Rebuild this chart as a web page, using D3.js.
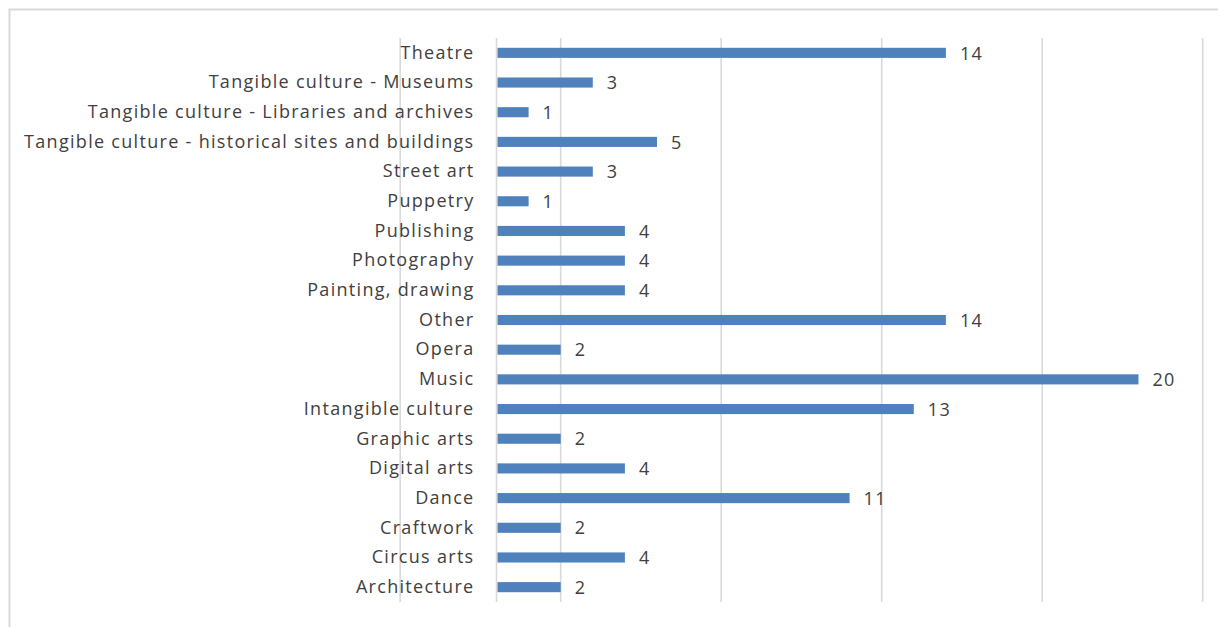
<!DOCTYPE html>
<html>
<head>
<meta charset="utf-8">
<script src="https://cdn.jsdelivr.net/npm/d3@7"></script>
<style>
  html, body { margin: 0; padding: 0; background: #fff; }
  svg { display: block; }
</style>
</head>
<body>
<svg id="chart" width="1218" height="627"></svg>
<script>
// Data (top to bottom as displayed)
const categories = [
  "Theatre",
  "Tangible culture - Museums",
  "Tangible culture - Libraries and archives",
  "Tangible culture - historical sites and buildings",
  "Street art",
  "Puppetry",
  "Publishing",
  "Photography",
  "Painting, drawing",
  "Other",
  "Opera",
  "Music",
  "Intangible culture",
  "Graphic arts",
  "Digital arts",
  "Dance",
  "Craftwork",
  "Circus arts",
  "Architecture"
];
const values = [14, 3, 1, 5, 3, 1, 4, 4, 4, 14, 2, 20, 13, 2, 4, 11, 2, 4, 2];
const gridValues = [-3, 2, 7, 12, 17, 22];

const svg = d3.select("#chart");
const W = 1218, H = 627;
const FONT = "'Open Sans', 'Noto Sans', sans-serif";
const FS = 18;
const LS = "1.3px";
const textColor = "#404040";
const barColor = "#4F81BD";
const gridColor = "#d9d9d9";

// Frame of the chart area (extends beyond the picture on right/bottom)
svg.append("rect")
  .attr("x", 9.5).attr("y", 9.5)
  .attr("width", W + 20).attr("height", H + 20)
  .attr("fill", "#fff")
  .attr("stroke", gridColor)
  .attr("stroke-width", 2);

const plotTop = 38, plotBottom = 602;
const x = d3.scaleLinear().domain([0, 20]).range([496.5, 1138.5]);
const y = d3.scaleBand().domain(categories).range([plotTop, plotBottom])
  .paddingInner(0.66).paddingOuter(0.33);

// gridlines
svg.append("g").attr("class", "grid").selectAll("line")
  .data(gridValues)
  .join("line")
  .attr("x1", (d) => x(d)).attr("x2", (d) => x(d))
  .attr("y1", plotTop).attr("y2", plotBottom)
  .attr("stroke", gridColor).attr("stroke-width", 1.6);

// category axis line at zero
const yAxis = svg.append("g")
  .attr("transform", `translate(${x(0)},0)`)
  .call(d3.axisLeft(y).tickSize(0).tickPadding(22));
yAxis.select(".domain").attr("stroke", gridColor).attr("stroke-width", 1.6)
  .attr("d", `M0,${plotTop}V${plotBottom}`);
yAxis.selectAll(".tick text")
  .attr("font-family", FONT).attr("font-size", FS).attr("fill", textColor)
  .style("letter-spacing", LS);

// bars
svg.append("g").selectAll("rect")
  .data(categories)
  .join("rect")
  .attr("x", x(0) + 1)
  .attr("y", (d) => y(d))
  .attr("width", (d, i) => x(values[i]) - x(0) - 1)
  .attr("height", y.bandwidth())
  .attr("fill", barColor);

// value labels
svg.append("g").selectAll("text")
  .data(categories)
  .join("text")
  .attr("x", (d, i) => x(values[i]) + 14)
  .attr("y", (d) => y(d) + y.bandwidth() / 2)
  .attr("dy", "0.37em")
  .attr("font-family", FONT).attr("font-size", FS).attr("fill", textColor)
  .style("letter-spacing", LS)
  .text((d, i) => values[i]);
</script>
</body>
</html>
